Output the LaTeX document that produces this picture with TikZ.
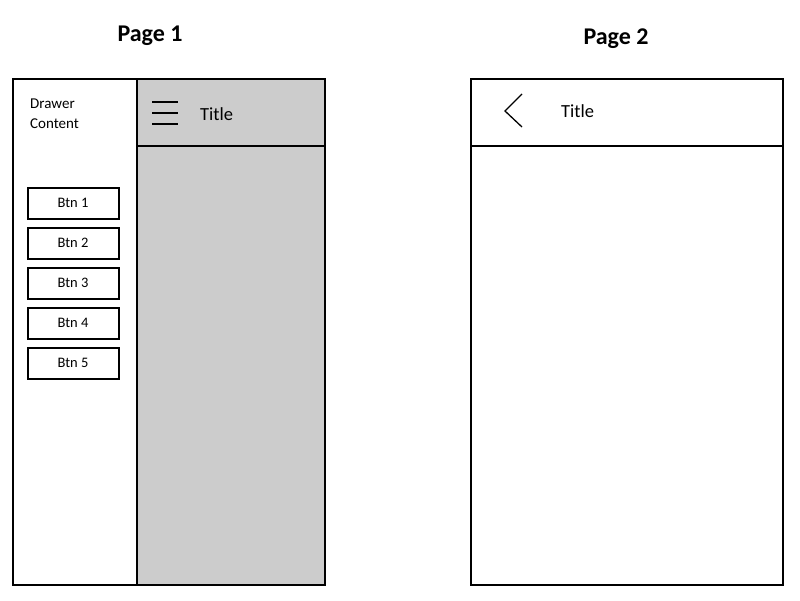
\documentclass[tikz,border=0pt]{standalone}
\usepackage{fontspec}
\setmainfont{Carlito}
\begin{document}
\begin{tikzpicture}[x=1pt,y=-1pt,
  frame/.style={draw=black,line width=2pt},
  btn/.style={draw=black,line width=2pt,minimum width=91pt,minimum height=31pt,inner sep=0pt,font=\fontsize{14.5}{16}\selectfont},
  lbl/.style={inner sep=0pt,font=\fontsize{18.5}{20}\selectfont,anchor=west},
  ttl/.style={inner sep=0pt,font=\fontsize{24}{28}\selectfont\bfseries}]
\useasboundingbox (0,0) rectangle (800,600);
% Page 1
\fill[fill={rgb,255:red,204;green,204;blue,204}] (137,79) rectangle (325,585);
\node[ttl] (p1) at (150,36) {Page 1};
\draw[line width=1.5pt] (137,146) -- (325,146);
\draw[line width=1.5pt] (137,79) -- (137,585);
\draw[frame] (13,79) rectangle (325,585);
\node[inner sep=0pt,anchor=north west,align=left,font=\fontsize{15}{20}\selectfont] (dc) at (30,99) {Drawer\\Content};
\draw[line width=1.5pt] (152,102) -- (178,102) (152,113) -- (178,113) (152,124) -- (178,124);
\node[lbl] (t1) at (200,114) {Title};
\foreach \i/\y in {1/203,2/243,3/283,4/323,5/363}
  \node[btn] (b\i) at (73,\y) {Btn \i};
% Page 2
\node[ttl] (p2) at (616,39) {Page 2};
\draw[line width=1.5pt] (471,146) -- (783,146);
\draw[frame] (471,79) rectangle (783,585);
\draw[line width=1.3pt] (522,94) -- (505,111) -- (522,127);
\node[lbl] (t2) at (561,111) {Title};
\end{tikzpicture}
\end{document}
